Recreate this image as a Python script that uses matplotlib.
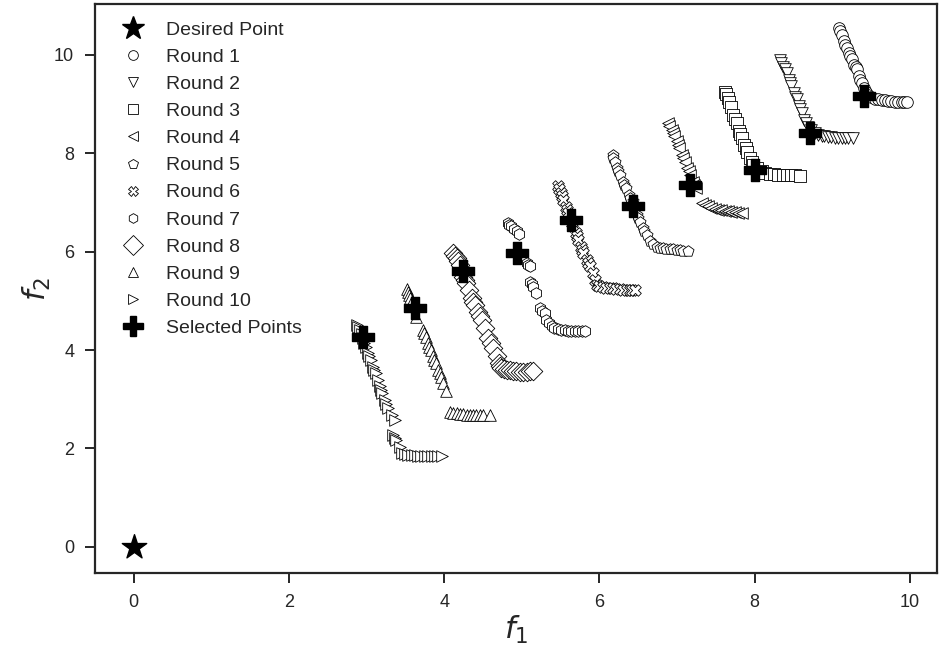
"""
Pareto fronts found in each optimisation round, with the selected point
of every round and the desired (ideal) point at the origin.
"""

import matplotlib.pyplot as plt
import seaborn as sns
from matplotlib.lines import Line2D

sns.set_style("ticks")
plt.rcParams['font.family'] = ['Liberation Sans', 'DejaVu Sans']

# Desired point
desired = (0.0, 0.0)

# Pareto front points of each round (f1, f2)
r1_f1 = [9.085, 9.10, 9.12, 9.153, 9.17, 9.184, 9.214, 9.23, 9.249, 9.282, 9.30, 9.313, 9.343,
         9.36, 9.378, 9.407, 9.44, 9.463, 9.50, 9.549, 9.59, 9.635, 9.68, 9.72, 9.76, 9.807,
         9.85, 9.893, 9.93, 9.958]
r1_f2 = [10.54, 10.48, 10.41, 10.27, 10.20, 10.14, 10.04, 9.98, 9.91, 9.80, 9.75, 9.70, 9.56,
         9.49, 9.42, 9.32, 9.25, 9.19, 9.14, 9.11, 9.09, 9.08, 9.07, 9.06, 9.05, 9.04,
         9.04, 9.04, 9.03, 9.03]

r2_f1 = [8.325, 8.345, 8.367, 8.39, 8.411, 8.441, 8.46, 8.475, 8.509, 8.525, 8.54, 8.57, 8.59,
         8.604, 8.638, 8.66, 8.682, 8.72, 8.776, 8.82, 8.862, 8.90, 8.947, 8.99, 9.034, 9.08,
         9.12, 9.16, 9.205, 9.269]
r2_f2 = [9.90, 9.83, 9.76, 9.70, 9.63, 9.49, 9.42, 9.36, 9.22, 9.15, 9.09, 8.96, 8.89,
         8.82, 8.68, 8.61, 8.54, 8.47, 8.41, 8.37, 8.35, 8.34, 8.33, 8.32, 8.31, 8.31,
         8.31, 8.31, 8.31, 8.31]

r3_f1 = [7.616, 7.63, 7.651, 7.67, 7.693, 7.723, 7.745, 7.767, 7.796, 7.81, 7.831, 7.865, 7.885,
         7.908, 7.938, 7.96, 7.981, 8.03, 8.089, 8.14, 8.196, 8.25, 8.303, 8.36, 8.411, 8.47,
         8.518, 8.58]
r3_f2 = [9.25, 9.20, 9.12, 9.03, 8.94, 8.78, 8.70, 8.61, 8.44, 8.38, 8.31, 8.17, 8.10,
         8.03, 7.90, 7.83, 7.76, 7.69, 7.63, 7.60, 7.58, 7.57, 7.56, 7.555, 7.55, 7.55,
         7.55, 7.54]

r4_f1 = [6.885, 6.90, 6.929, 6.945, 6.959, 6.994, 7.01, 7.027, 7.058, 7.08, 7.101, 7.130, 7.15,
         7.165, 7.200, 7.22, 7.242, 7.316, 7.36, 7.401, 7.44, 7.487, 7.53, 7.573, 7.62, 7.659,
         7.70, 7.745, 7.79, 7.831]
r4_f2 = [8.61, 8.56, 8.48, 8.41, 8.35, 8.24, 8.17, 8.10, 7.97, 7.90, 7.83, 7.70, 7.63,
         7.56, 7.42, 7.36, 7.29, 6.99, 6.95, 6.92, 6.89, 6.87, 6.85, 6.84, 6.83, 6.82,
         6.81, 6.80, 6.79, 6.79]

r5_f1 = [6.169, 6.18, 6.198, 6.228, 6.245, 6.263, 6.298, 6.32, 6.340, 6.383, 6.40, 6.427, 6.456,
         6.486, 6.50, 6.521, 6.563, 6.58, 6.607, 6.649, 6.69, 6.736, 6.78, 6.821, 6.86, 6.907,
         6.95, 6.994, 7.04, 7.079, 7.143]
r5_f2 = [7.97, 7.90, 7.83, 7.70, 7.63, 7.56, 7.42, 7.36, 7.29, 7.15, 7.09, 7.02, 6.88,
         6.75, 6.68, 6.61, 6.48, 6.41, 6.34, 6.21, 6.15, 6.10, 6.08, 6.07, 6.06, 6.05,
         6.045, 6.04, 6.03, 6.02, 6.02]

r6_f1 = [5.468, 5.485, 5.503, 5.52, 5.532, 5.563, 5.58, 5.597, 5.631, 5.645, 5.661, 5.692, 5.71,
         5.726, 5.760, 5.775, 5.790, 5.834, 5.855, 5.876, 5.919, 5.941, 5.963, 6.00, 6.048,
         6.09, 6.134, 6.18, 6.220, 6.26, 6.305, 6.35, 6.392, 6.42, 6.456]
r6_f2 = [7.34, 7.27, 7.19, 7.12, 7.05, 6.91, 6.85, 6.78, 6.65, 6.58, 6.51, 6.38, 6.31,
         6.24, 6.10, 6.04, 5.97, 5.83, 5.76, 5.70, 5.56, 5.43, 5.33, 5.31, 5.29,
         5.27, 5.26, 5.25, 5.24, 5.23, 5.22, 5.215, 5.21, 5.21, 5.21]

r7_f1 = [4.823, 4.84, 4.867, 4.90, 4.932, 4.961, 5.061, 5.08, 5.103, 5.103, 5.125, 5.146, 5.189,
         5.232, 5.26, 5.296, 5.318, 5.35, 5.383, 5.42, 5.468, 5.51, 5.554, 5.60, 5.640, 5.68,
         5.726, 5.77, 5.812]
r7_f2 = [6.58, 6.55, 6.51, 6.46, 6.41, 6.36, 5.77, 5.73, 5.70, 5.39, 5.34, 5.29, 5.16,
         4.85, 4.80, 4.75, 4.61, 4.55, 4.48, 4.44, 4.42, 4.41, 4.40, 4.39, 4.38, 4.38,
         4.38, 4.38, 4.38]

r8_f1 = [4.115, 4.135, 4.159, 4.18, 4.201, 4.244, 4.265, 4.287, 4.317, 4.352, 4.37, 4.394, 4.437,
         4.46, 4.481, 4.523, 4.566, 4.60, 4.630, 4.674, 4.704, 4.72, 4.738, 4.77, 4.803, 4.85,
         4.888, 4.93, 4.974, 5.02, 5.061, 5.10, 5.146]
r8_f2 = [5.97, 5.92, 5.87, 5.80, 5.73, 5.49, 5.42, 5.36, 5.22, 5.05, 4.98, 4.92, 4.78,
         4.70, 4.61, 4.45, 4.24, 4.14, 4.04, 3.87, 3.73, 3.68, 3.63, 3.61, 3.60, 3.59,
         3.58, 3.57, 3.56, 3.56, 3.56, 3.57, 3.58]

r9_f1 = [3.514, 3.53, 3.544, 3.56, 3.579, 3.630, 3.728, 3.74, 3.759, 3.793, 3.81, 3.827, 3.857,
         3.87, 3.888, 3.921, 3.94, 3.956, 3.986, 4.017, 4.072, 4.11, 4.159, 4.20, 4.244, 4.29,
         4.330, 4.37, 4.416, 4.46, 4.501, 4.588]
r9_f2 = [5.24, 5.18, 5.12, 5.05, 4.99, 4.68, 4.41, 4.34, 4.27, 4.14, 4.07, 4.00, 3.87,
         3.80, 3.73, 3.60, 3.53, 3.46, 3.33, 3.16, 2.75, 2.73, 2.72, 2.71, 2.70, 2.69,
         2.68, 2.68, 2.68, 2.67, 2.67, 2.67]

r10_f1 = [2.870, 2.89, 2.912, 2.935, 2.955, 2.97, 2.986, 3.019, 3.035, 3.054, 3.084, 3.10, 3.115,
          3.148, 3.170, 3.185, 3.200, 3.235, 3.255, 3.277, 3.321, 3.363, 3.341, 3.36, 3.385,
          3.428, 3.450, 3.49, 3.535, 3.58, 3.621, 3.66, 3.707, 3.75, 3.793, 3.84, 3.879, 3.92,
          3.965]
r10_f2 = [4.51, 4.46, 4.41, 4.32, 4.24, 4.15, 4.07, 3.94, 3.87, 3.80, 3.66, 3.60, 3.53,
          3.39, 3.26, 3.19, 3.12, 2.99, 2.90, 2.82, 2.68, 2.58, 2.28, 2.22, 2.17,
          2.04, 1.90, 1.88, 1.87, 1.865, 1.86, 1.855, 1.85, 1.85, 1.85, 1.85, 1.85, 1.85,
          1.85]

# Point selected in each round (round 1 .. 10)
sel_f1 = [9.41, 8.711, 8.003, 7.165, 6.435, 5.64, 4.944, 4.244, 3.621, 2.955]
sel_f2 = [9.17, 8.41, 7.66, 7.36, 6.92, 6.65, 5.97, 5.60, 4.85, 4.27]

rounds_f1 = [r1_f1, r2_f1, r3_f1, r4_f1, r5_f1, r6_f1, r7_f1, r8_f1, r9_f1, r10_f1]
rounds_f2 = [r1_f2, r2_f2, r3_f2, r4_f2, r5_f2, r6_f2, r7_f2, r8_f2, r9_f2, r10_f2]
markers = ['o', 'v', 's', '<', 'p', 'X', 'h', 'D', '^', '>']

fig = plt.figure(figsize=(9.39, 6.55), dpi=100)
ax = fig.add_axes([95 / 939, 82 / 655, 842 / 939, 569 / 655])

ax.scatter(*desired, marker='*', s=340, c='black', zorder=4)
for i in range(10):
    ax.scatter(rounds_f1[i], rounds_f2[i], marker=markers[i],
               s=90 if markers[i] == 'D' else 70,
               facecolors='white', edgecolors='black', linewidths=0.6, zorder=2)
ax.scatter(sel_f1, sel_f2, marker='P', s=230, c='black', zorder=3)

# legend with smaller markers for the rounds
handles = [Line2D([], [], ls='none', marker='*', color='black', ms=17)]
labels = ['Desired Point']
for i, m in enumerate(markers):
    handles.append(Line2D([], [], ls='none', marker=m, mfc='white', mec='black',
                          mew=0.6, ms=10 if m == 'D' else 7))
    labels.append('Round %d' % (i + 1))
handles.append(Line2D([], [], ls='none', marker='P', color='black', ms=14))
labels.append('Selected Points')
ax.legend(handles, labels, loc='upper left', frameon=False, fontsize=14,
          borderaxespad=0.3, labelspacing=0.49, handletextpad=0.7,
          bbox_to_anchor=(0.006, 0.994))

ax.set_xlim(-0.5, 10.35)
ax.set_ylim(-0.53, 11.03)
ax.set_xticks([0, 2, 4, 6, 8, 10])
ax.set_yticks([0, 2, 4, 6, 8, 10])
ax.tick_params(labelsize=13, length=7, width=1.4, pad=8, color='0.15')
for sp in ax.spines.values():
    sp.set_linewidth(1.6)
    sp.set_color('0.15')
ax.set_xlabel('$f_1$', fontsize=22, labelpad=2)
ax.set_ylabel('$f_2$', fontsize=22, labelpad=1)

plt.savefig('out.png', dpi=100)
